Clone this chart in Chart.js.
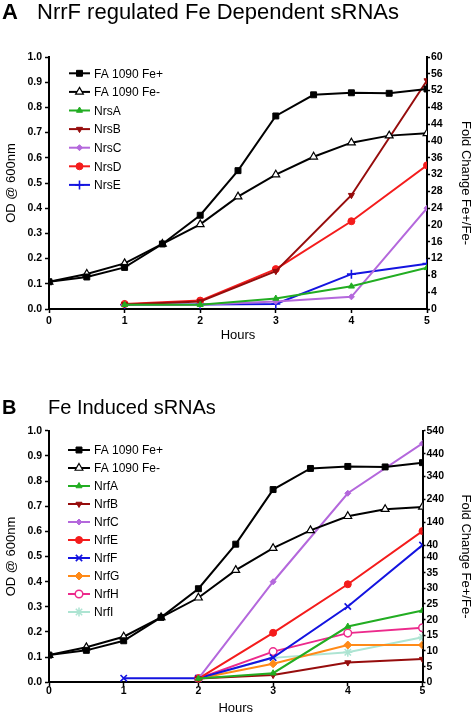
<!DOCTYPE html>
<html><head><meta charset="utf-8">
<script src="https://cdn.jsdelivr.net/npm/chart.js@4.4.0/dist/chart.umd.min.js"></script>
<style>
html,body{margin:0;padding:0;background:#fff;width:472px;height:713px;overflow:hidden;font-family:"Liberation Sans",Arial,sans-serif}
.wrap{position:absolute;left:0;width:472px}
.t{position:absolute;font-size:22px;white-space:nowrap;color:#000;line-height:1;z-index:2}
</style></head><body>
<div class="wrap" style="top:0;height:360px"><canvas id="cA" width="472" height="360"></canvas></div>
<div class="wrap" style="top:360px;height:360px"><canvas id="cB" width="472" height="360"></canvas></div>
<div class="t" style="left:2px;top:1px;font-weight:bold">A</div>
<div class="t" style="left:37px;top:1px">NrrF regulated Fe Dependent sRNAs</div>
<div class="t" style="left:2px;top:397px;font-weight:bold;font-size:20px">B</div>
<div class="t" style="left:48px;top:397px;font-size:20px">Fe Induced sRNAs</div>
<script>
// ---------- data ----------
const hoursGrowth = [0, 0.5, 1, 1.5, 2, 2.5, 3, 3.5, 4, 4.5, 5];
const odFePlus  = [0.108, 0.127, 0.165, 0.258, 0.372, 0.549, 0.766, 0.850, 0.858, 0.856, 0.873];
const odFeMinus = [0.108, 0.139, 0.181, 0.258, 0.336, 0.446, 0.533, 0.604, 0.660, 0.688, 0.697];

const hoursA = [1, 2, 3, 4, 5];
const nrsA = [1.0, 1.0, 2.5, 5.4, 9.8];
const nrsB = [1.1, 1.8, 9.0, 27.1, 54.4];
const nrsC = [1.0, 1.0, 1.8, 2.9, 24.0];
const nrsD = [1.2, 2.0, 9.5, 20.9, 34.2];
const nrsE = [1.0, 1.1, 1.2, 8.3, 10.8];

const hoursB = [2, 3, 4, 5];
const hoursNrfF = [1, 2, 3, 4, 5];
const nrfA = [1.2, 2.9, 17.8, 22.9];
const nrfB = [1.2, 2.3, 6.3, 7.4];
const nrfC = [1.2, 32.1, 267, 485];
const nrfE = [1.2, 15.8, 31.3, 102];
const nrfF = [1.3, 1.3, 7.9, 24.2, 41];
const nrfG = [1.2, 5.9, 11.9, 11.9];
const nrfH = [1.2, 9.8, 15.7, 17.4];
const nrfI = [1.2, 7.8, 9.6, 14.4];

const hourTicks = [0, 1, 2, 3, 4, 5];
const odTicks = [0, 0.1, 0.2, 0.3, 0.4, 0.5, 0.6, 0.7, 0.8, 0.9, 1.0];
const foldTicksA = [0, 4, 8, 12, 16, 20, 24, 28, 32, 36, 40, 44, 48, 52, 56, 60];
const foldTicksBLower = [0, 5, 10, 15, 20, 25, 30, 35, 40];
const foldTicksBUpper = [40, 140, 240, 340, 440, 540];

// ---------- setup ----------
const FONT = "'Liberation Sans', Arial, sans-serif";
Chart.defaults.font.family = FONT;
Chart.defaults.color = '#000';

const pts = (xs, ys) => xs.map((x, i) => ({x: x, y: ys[i]}));

// piecewise (broken) linear scale for panel B
class BrokenScale extends Chart.LinearScale {
  _dec(v) {
    const o = this.options.broken;
    if (v <= o.breakAt) return v / o.breakAt * o.lowerFrac;
    return o.upperStart + (v - o.breakAt) / (o.top - o.breakAt) * (1 - o.upperStart);
  }
  getPixelForValue(v) { return this.getPixelForDecimal(this._dec(v)); }
  getValueForPixel(p) {
    const o = this.options.broken;
    const d = this.getDecimalForPixel(p);
    if (d <= o.lowerFrac) return d / o.lowerFrac * o.breakAt;
    return o.breakAt + (d - o.upperStart) / (1 - o.upperStart) * (o.top - o.breakAt);
  }
}
BrokenScale.id = 'broken';
BrokenScale.defaults = Chart.LinearScale.defaults;
Chart.register(BrokenScale);

// legend drawn inside plot area
const insideLegend = {
  id: 'insideLegend',
  afterDraw(chart, args, o) {
    const ctx = chart.ctx, ca = chart.chartArea;
    chart.data.datasets.forEach((ds, i) => {
      const y = ca.top + o.y0 + i * o.dy;
      const x0 = o.x0, x1 = o.x0 + o.len;
      ctx.save();
      ctx.strokeStyle = ds.borderColor;
      ctx.lineWidth = 2;
      ctx.beginPath(); ctx.moveTo(x0, y); ctx.lineTo(x1, y); ctx.stroke();
      ctx.fillStyle = ds.pointBackgroundColor;
      ctx.strokeStyle = ds.pointBorderColor || ds.borderColor;
      ctx.lineWidth = ds.pointBorderWidth;
      Chart.helpers.drawPoint(ctx, {pointStyle: ds.pointStyle, rotation: ds.pointRotation || 0,
        radius: ds.pointRadius, borderWidth: ds.pointBorderWidth}, (x0 + x1) / 2, y);
      ctx.fillStyle = '#000';
      ctx.font = '12px ' + FONT;
      ctx.textBaseline = 'middle';
      ctx.textAlign = 'left';
      ctx.fillText(ds.label, x1 + 4, y + 1);
      ctx.restore();
    });
  }
};

function ds(label, data, color, style, opts) {
  return Object.assign({
    label: label, data: data, borderColor: color, backgroundColor: color,
    pointBackgroundColor: color, pointBorderColor: color, pointBorderWidth: 1,
    pointStyle: style, pointRadius: 3.5, borderWidth: 2, yAxisID: 'y2',
    tension: 0, fill: false
  }, opts || {});
}

const C = {green: '#22ad22', dred: '#960c0c', purple: '#b468dc', red: '#f41c1c',
  blue: '#1414e0', orange: '#ff8a18', pink: '#ec2a8c', cyan: '#ade4d2'};

function growthSets() {
  return [
    ds('FA 1090 Fe+', pts(hoursGrowth, odFePlus), '#000', 'rect',
      {yAxisID: 'y', pointRadius: 4.2, pointBackgroundColor: '#000'}),
    ds('FA 1090 Fe-', pts(hoursGrowth, odFeMinus), '#000', 'triangle',
      {yAxisID: 'y', pointRadius: 4.5, pointBackgroundColor: '#fff', pointBorderWidth: 1.2})
  ];
}

const tickFont = {size: 10.5, weight: 'bold'};
const axisGrid = {drawOnChartArea: false, drawTicks: true, tickLength: 4, tickColor: '#000', tickWidth: 1.5};
const axisBorder = {display: true, color: '#000', width: 2};

function baseOptions(p) {
  return {
    responsive: false, animation: false,
    layout: {padding: {top: p.top, left: 0, right: 0, bottom: 0}},
    plugins: {legend: {display: false}, tooltip: {enabled: false}, insideLegend: p.legend},
    scales: {
      x: {
        type: 'linear', min: 0, max: 5, position: 'bottom',
        afterBuildTicks: s => { s.ticks = hourTicks.map(v => ({value: v})); },
        ticks: {font: tickFont, padding: p.xPad, autoSkip: false, maxRotation: 0},
        grid: axisGrid, border: axisBorder,
        title: {display: true, text: 'Hours', font: {size: 13}, padding: {top: 0, bottom: p.xTitlePad}},
        afterFit: s => { s.height = p.xH; }
      },
      y: {
        type: 'linear', min: 0, max: 1, position: 'left',
        afterBuildTicks: s => { s.ticks = odTicks.map(v => ({value: v})); },
        ticks: {font: tickFont, padding: 3, autoSkip: false, callback: v => v.toFixed(1)},
        grid: axisGrid, border: axisBorder,
        title: {display: true, text: 'OD @ 600nm', font: {size: 13}, padding: {top: 4, bottom: 0}},
        afterFit: s => { s.width = 49; }
      },
      y2: Object.assign({
        position: 'right',
        grid: Object.assign({}, axisGrid, {tickLength: 3}), border: axisBorder,
        title: {display: true, text: 'Fold Change Fe+/Fe-', font: {size: 13, lineHeight: 1}, padding: {top: 0, bottom: 0}},
        afterFit: s => { s.width = p.rW; }
      }, p.y2)
    }
  };
}

// ---------- Panel A ----------
new Chart(document.getElementById('cA'), {
  type: 'line',
  data: {datasets: growthSets().concat([
    ds('NrsA', pts(hoursA, nrsA), C.green, 'triangle'),
    ds('NrsB', pts(hoursA, nrsB), C.dred, 'triangle', {pointRotation: 180}),
    ds('NrsC', pts(hoursA, nrsC), C.purple, 'rectRot', {pointRadius: 3}),
    ds('NrsD', pts(hoursA, nrsD), C.red, 'circle'),
    ds('NrsE', pts(hoursA, nrsE), C.blue, 'cross', {pointRadius: 4.5, pointBorderWidth: 1.6})
  ])},
  options: baseOptions({
    top: 57, xH: 51, xPad: 2, xTitlePad: 17, rW: 45,
    legend: {x0: 69, len: 21, y0: 16.3, dy: 18.6},
    y2: {type: 'linear', min: 0, max: 60,
      afterBuildTicks: s => { s.ticks = foldTicksA.map(v => ({value: v})); },
      ticks: {font: tickFont, padding: 1, autoSkip: false}}
  }),
  plugins: [insideLegend]
});

// ---------- Panel B ----------
new Chart(document.getElementById('cB'), {
  type: 'line',
  data: {datasets: growthSets().concat([
    ds('NrfA', pts(hoursB, nrfA), C.green, 'triangle'),
    ds('NrfB', pts(hoursB, nrfB), C.dred, 'triangle', {pointRotation: 180}),
    ds('NrfC', pts(hoursB, nrfC), C.purple, 'rectRot', {pointRadius: 3}),
    ds('NrfE', pts(hoursB, nrfE), C.red, 'circle'),
    ds('NrfF', pts(hoursNrfF, nrfF), C.blue, 'crossRot', {pointRadius: 4.5, pointBorderWidth: 1.6}),
    ds('NrfG', pts(hoursB, nrfG), C.orange, 'rectRot', {pointRadius: 4}),
    ds('NrfH', pts(hoursB, nrfH), C.pink, 'circle', {pointRadius: 3.8, pointBackgroundColor: '#fff', pointBorderWidth: 1.5}),
    ds('NrfI', pts(hoursB, nrfI), C.cyan, 'star', {pointRadius: 4.5, pointBorderWidth: 1.5})
  ])},
  options: baseOptions({
    top: 70.7, xH: 37.7, xPad: -1, xTitlePad: 4, rW: 49.5,
    legend: {x0: 68, len: 22, y0: 19.3, dy: 18.0},
    y2: {type: 'broken', min: 0, max: 540,
      broken: {breakAt: 40, top: 540, lowerFrac: 0.498, upperStart: 0.5445},
      afterBuildTicks: s => {
        s.ticks = foldTicksBLower.map(v => ({value: v}))
          .concat(foldTicksBUpper.map(v => ({value: v === 40 ? 40.0001 : v})));
      },
      ticks: {font: tickFont, padding: 1, autoSkip: false, callback: v => String(Math.round(v))}}
  }),
  plugins: [insideLegend]
});
</script>
</body></html>
